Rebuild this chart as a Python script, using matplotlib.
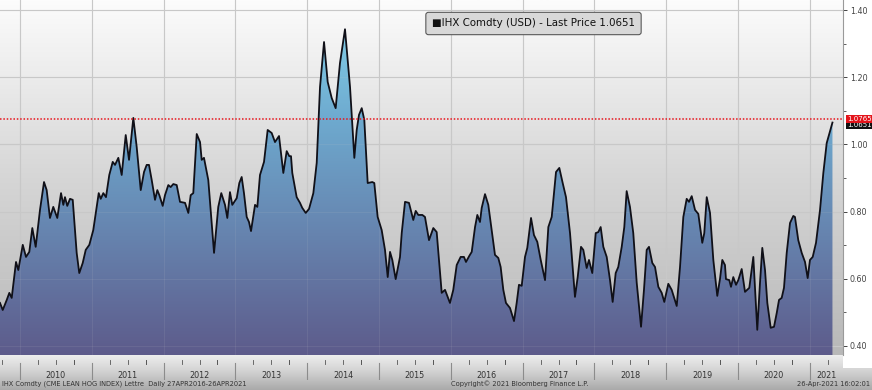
# IHX Comdty (CME Lean Hog Index) - Bloomberg style area chart

import numpy as np
import matplotlib
matplotlib.use("Agg")
import matplotlib.pyplot as plt
import matplotlib.transforms as mtransforms
from matplotlib.colors import LinearSegmentedColormap
from matplotlib.patches import Polygon

# -------------------------------------------------------
# DATA (decimal year, price)
# -------------------------------------------------------
DATES = [
    2009.721, 2009.759, 2009.815, 2009.851, 2009.884, 2009.944, 2009.976,
    2010.038, 2010.083, 2010.129, 2010.171, 2010.218, 2010.278, 2010.334,
    2010.371, 2010.417, 2010.463, 2010.519, 2010.571, 2010.603, 2010.626,
    2010.658, 2010.696, 2010.734, 2010.789, 2010.825, 2010.873, 2010.915,
    2010.965, 2011.020, 2011.096, 2011.124, 2011.160, 2011.197, 2011.243,
    2011.291, 2011.323, 2011.369, 2011.416, 2011.472, 2011.518, 2011.578,
    2011.625, 2011.681, 2011.727, 2011.764, 2011.796, 2011.834, 2011.880,
    2011.912, 2011.940, 2011.987, 2012.019, 2012.065, 2012.098, 2012.135,
    2012.182, 2012.228, 2012.298, 2012.344, 2012.377, 2012.413, 2012.461,
    2012.507, 2012.530, 2012.562, 2012.622, 2012.702, 2012.761, 2012.803,
    2012.855, 2012.887, 2012.924, 2012.956, 2013.018, 2013.054, 2013.087,
    2013.119, 2013.157, 2013.189, 2013.217, 2013.273, 2013.305, 2013.342,
    2013.398, 2013.449, 2013.505, 2013.551, 2013.607, 2013.667, 2013.714,
    2013.750, 2013.774, 2013.792, 2013.853, 2013.899, 2013.931, 2013.979,
    2014.025, 2014.085, 2014.132, 2014.178, 2014.234, 2014.285, 2014.341,
    2014.396, 2014.456, 2014.526, 2014.596, 2014.656, 2014.689, 2014.721,
    2014.759, 2014.795, 2014.842, 2014.906, 2014.934, 2014.981, 2015.037,
    2015.083, 2015.121, 2015.153, 2015.185, 2015.232, 2015.292, 2015.316,
    2015.362, 2015.417, 2015.477, 2015.511, 2015.547, 2015.603, 2015.640,
    2015.696, 2015.756, 2015.803, 2015.873, 2015.919, 2015.988, 2016.034,
    2016.082, 2016.137, 2016.183, 2016.211, 2016.257, 2016.291, 2016.337,
    2016.369, 2016.406, 2016.430, 2016.476, 2016.522, 2016.569, 2016.615,
    2016.661, 2016.694, 2016.731, 2016.768, 2016.824, 2016.880, 2016.917,
    2016.949, 2016.987, 2017.033, 2017.065, 2017.117, 2017.158, 2017.204,
    2017.252, 2017.312, 2017.358, 2017.405, 2017.465, 2017.511, 2017.558,
    2017.604, 2017.660, 2017.729, 2017.767, 2017.813, 2017.845, 2017.892,
    2017.924, 2017.970, 2018.018, 2018.054, 2018.087, 2018.124, 2018.171,
    2018.217, 2018.254, 2018.296, 2018.332, 2018.380, 2018.416, 2018.449,
    2018.495, 2018.541, 2018.589, 2018.649, 2018.690, 2018.728, 2018.760,
    2018.806, 2018.844, 2018.890, 2018.937, 2018.973, 2019.029, 2019.076,
    2019.146, 2019.192, 2019.238, 2019.285, 2019.317, 2019.355, 2019.401,
    2019.447, 2019.502, 2019.530, 2019.564, 2019.610, 2019.656, 2019.711,
    2019.749, 2019.781, 2019.818, 2019.832, 2019.878, 2019.902, 2019.934,
    2019.972, 2020.004, 2020.051, 2020.097, 2020.157, 2020.213, 2020.268,
    2020.306, 2020.338, 2020.376, 2020.408, 2020.455, 2020.501, 2020.539,
    2020.571, 2020.608, 2020.640, 2020.678, 2020.724, 2020.770, 2020.793,
    2020.839, 2020.887, 2020.933, 2020.970, 2021.002, 2021.040, 2021.086,
    2021.142, 2021.188, 2021.235, 2021.315,
]

PRICES = [
    0.528, 0.507, 0.537, 0.558, 0.543, 0.650, 0.626,
    0.701, 0.665, 0.680, 0.751, 0.695, 0.805, 0.888,
    0.864, 0.781, 0.814, 0.781, 0.855, 0.820, 0.843,
    0.817, 0.838, 0.835, 0.677, 0.617, 0.647, 0.686,
    0.701, 0.745, 0.855, 0.838, 0.855, 0.843, 0.909,
    0.948, 0.939, 0.960, 0.909, 1.028, 0.954, 1.079,
    0.992, 0.864, 0.918, 0.939, 0.939, 0.894, 0.835,
    0.864, 0.849, 0.817, 0.849, 0.879, 0.873, 0.882,
    0.879, 0.829, 0.826, 0.796, 0.849, 0.855, 1.031,
    1.007, 0.954, 0.960, 0.894, 0.677, 0.814, 0.855,
    0.820, 0.781, 0.858, 0.820, 0.840, 0.885, 0.903,
    0.855, 0.784, 0.769, 0.742, 0.820, 0.814, 0.909,
    0.948, 1.043, 1.034, 1.007, 1.025, 0.915, 0.980,
    0.965, 0.965, 0.915, 0.843, 0.826, 0.811, 0.796,
    0.808, 0.855, 0.945, 1.171, 1.305, 1.186, 1.138,
    1.108, 1.242, 1.343, 1.171, 0.960, 1.043, 1.088,
    1.108, 1.073, 0.885, 0.888, 0.885, 0.784, 0.745,
    0.686, 0.605, 0.680, 0.656, 0.599, 0.665, 0.736,
    0.829, 0.826, 0.775, 0.802, 0.790, 0.790, 0.784,
    0.715, 0.751, 0.739, 0.558, 0.567, 0.528, 0.567,
    0.641, 0.665, 0.665, 0.650, 0.668, 0.680, 0.754,
    0.790, 0.769, 0.811, 0.852, 0.820, 0.745, 0.671,
    0.662, 0.635, 0.567, 0.528, 0.513, 0.474, 0.528,
    0.582, 0.579, 0.665, 0.692, 0.781, 0.730, 0.710,
    0.656, 0.596, 0.754, 0.784, 0.918, 0.930, 0.885,
    0.843, 0.736, 0.546, 0.605, 0.695, 0.686, 0.632,
    0.656, 0.617, 0.736, 0.739, 0.754, 0.695, 0.665,
    0.596, 0.531, 0.617, 0.635, 0.695, 0.754, 0.861,
    0.814, 0.736, 0.588, 0.457, 0.567, 0.686, 0.695,
    0.647, 0.635, 0.576, 0.558, 0.531, 0.585, 0.567,
    0.519, 0.635, 0.784, 0.838, 0.829, 0.846, 0.805,
    0.793, 0.707, 0.736, 0.843, 0.796, 0.656, 0.549,
    0.600, 0.656, 0.641, 0.599, 0.596, 0.576, 0.605,
    0.582, 0.596, 0.629, 0.561, 0.573, 0.665, 0.448,
    0.588, 0.692, 0.626, 0.528, 0.454, 0.457, 0.498,
    0.537, 0.543, 0.573, 0.677, 0.766, 0.787, 0.784,
    0.715, 0.677, 0.650, 0.602, 0.656, 0.665, 0.707,
    0.805, 0.915, 1.004, 1.0651,
]

LAST_PRICE = 1.0651
REF_LEVEL = 1.0765
YEARS = list(range(2010, 2022))
Y_TICKS = [0.40, 0.60, 0.80, 1.00, 1.20, 1.40]

LEGEND_TEXT = "\u25a0IHX Comdty (USD) - Last Price 1.0651"
FOOT_LEFT = "IHX Comdty (CME LEAN HOG INDEX) Lettre  Daily 27APR2016-26APR2021"
FOOT_MID = "Copyright\u00a9 2021 Bloomberg Finance L.P."
FOOT_RIGHT = "26-Apr-2021 16:02:01"

# -------------------------------------------------------
# LAYOUT (pixels of the 872x390 output)
# -------------------------------------------------------
W, H = 872, 390
PLOT_RIGHT = 843
PLOT_BOTTOM = 355
X_MIN, X_MAX = 2009.721, 2021.462
Y_MIN, Y_MAX = 0.373, 1.430

plt.rcParams["font.family"] = ["DejaVu Sans"]

fig = plt.figure(figsize=(W / 100, H / 100), dpi=100)
fig.patch.set_facecolor("white")

grad = np.linspace(0, 1, 256).reshape(-1, 1)

# bottom band (date axis + footer)
band = fig.add_axes([0, 0, 1, (H - PLOT_BOTTOM) / H])
band.imshow(grad, extent=[0, 1, 0, 1], origin="lower", aspect="auto",
            cmap=LinearSegmentedColormap.from_list("band", ["#a9a9a9", "#d0d0d0", "#eeeeee"]))
band.add_patch(plt.Rectangle((PLOT_RIGHT / W, 0.62), 1, 1, color="white", lw=0))
band.set_xlim(0, 1)
band.set_ylim(0, 1)
band.axis("off")

# -------------------------------------------------------
# main plot
# -------------------------------------------------------
ax = fig.add_axes([0, (H - PLOT_BOTTOM) / H, PLOT_RIGHT / W, PLOT_BOTTOM / H])

bg_cmap = LinearSegmentedColormap.from_list("bg", ["#b8b8b8", "#d6d6d6", "#fcfcfc"])
ax.imshow(grad, extent=[X_MIN, X_MAX, Y_MIN, Y_MAX], origin="lower",
          aspect="auto", cmap=bg_cmap, zorder=0)

for yr in YEARS:
    ax.axvline(yr, color="#c8c8c8", lw=0.8, zorder=1)
    ax.axvline(yr, color="#d0d0d0", lw=0.8, alpha=0.1, zorder=3)
for v in Y_TICKS:
    ax.axhline(v, color="#c8c8c8", lw=0.8, zorder=1)
    ax.axhline(v, color="#d0d0d0", lw=0.8, alpha=0.1, zorder=3)

# gradient fill under the price line
verts = [(DATES[0], Y_MIN)] + list(zip(DATES, PRICES)) + [(DATES[-1], Y_MIN)]
poly = Polygon(verts, closed=True, fill=False, edgecolor="none")
ax.add_patch(poly)
fill_cmap = LinearSegmentedColormap.from_list(
    "fill", ["#5d5b8b", "#6683ae", "#6eaacf", "#86d7ee"])
img = ax.imshow(grad, extent=[X_MIN, X_MAX, Y_MIN, Y_MAX], origin="lower",
                aspect="auto", cmap=fill_cmap, zorder=2)
img.set_clip_path(poly)

ax.plot(DATES, PRICES, color="#101018", lw=1.3, zorder=4)
ax.axhline(REF_LEVEL, color="#e8141c", lw=1.1, ls=(0, (1, 1.2)), zorder=5)

ax.set_xlim(X_MIN, X_MAX)
ax.set_ylim(Y_MIN, Y_MAX)
ax.set_xticks([])
ax.yaxis.tick_right()
ax.set_yticks(Y_TICKS)
ax.set_yticklabels(["%.2f" % v for v in Y_TICKS])
ax.set_yticks(np.arange(0.5, 1.41, 0.2), minor=True)
ax.tick_params(axis="y", which="major", length=3, width=0.7, colors="#444444",
               labelsize=5.8, pad=2)
ax.tick_params(axis="y", which="minor", length=2, width=0.6, colors="#444444")
for side in ["left", "top", "bottom"]:
    ax.spines[side].set_visible(False)
ax.spines["right"].set_color("#9a9a9a")
ax.spines["right"].set_linewidth(0.8)

# price tags on the right axis
tr = mtransforms.blended_transform_factory(ax.transAxes, ax.transData)
ax.text(1.0045, LAST_PRICE - 0.007, "%.4f" % LAST_PRICE, transform=tr, fontsize=5.0,
        color="white", va="center", ha="left", clip_on=False, zorder=6,
        bbox=dict(boxstyle="square,pad=0.12", fc="#111111", ec="none"))
ax.text(1.0045, REF_LEVEL, "%.4f" % REF_LEVEL, transform=tr, fontsize=5.0,
        color="white", va="center", ha="left", clip_on=False, zorder=7,
        bbox=dict(boxstyle="square,pad=0.12", fc="#e3141b", ec="none"))

# legend box
fig.text(533.5 / W, 1 - 23.5 / H, LEGEND_TEXT, ha="center", va="center",
         fontsize=7.4, color="#111111",
         bbox=dict(boxstyle="round,pad=0.6,rounding_size=0.25",
                   fc="#d8d8d8", ec="#5a5a5a", lw=0.8))

# -------------------------------------------------------
# date axis: year separators, quarter ticks, year labels
# -------------------------------------------------------
axy = fig.add_axes([0, 10 / H, PLOT_RIGHT / W, 25 / H])
axy.set_xlim(X_MIN, X_MAX)
axy.set_ylim(0, 1)
axy.axis("off")
for yr in YEARS:
    axy.plot([yr, yr], [0.0, 0.68], color="#8c8c8c", lw=0.8)
    for q in (0.25, 0.5, 0.75):
        axy.plot([yr + q, yr + q], [0.66, 0.82], color="#555555", lw=0.6)
    axy.plot([yr - 0.25, yr - 0.25], [0.66, 0.82], color="#555555", lw=0.6)
    mid = (yr + min(yr + 1, X_MAX)) / 2
    axy.text(mid, 0.2, str(yr), ha="center", va="center", fontsize=5.8,
             color="#333333")

# footer
fig.text(2 / W, 1 - 384 / H, FOOT_LEFT, ha="left", va="center", fontsize=4.8,
         color="#333333")
fig.text(451 / W, 1 - 384 / H, FOOT_MID, ha="left", va="center", fontsize=4.8,
         color="#333333")
fig.text(870 / W, 1 - 384 / H, FOOT_RIGHT, ha="right", va="center", fontsize=4.8,
         color="#333333")

fig.savefig("out.png", dpi=100)
